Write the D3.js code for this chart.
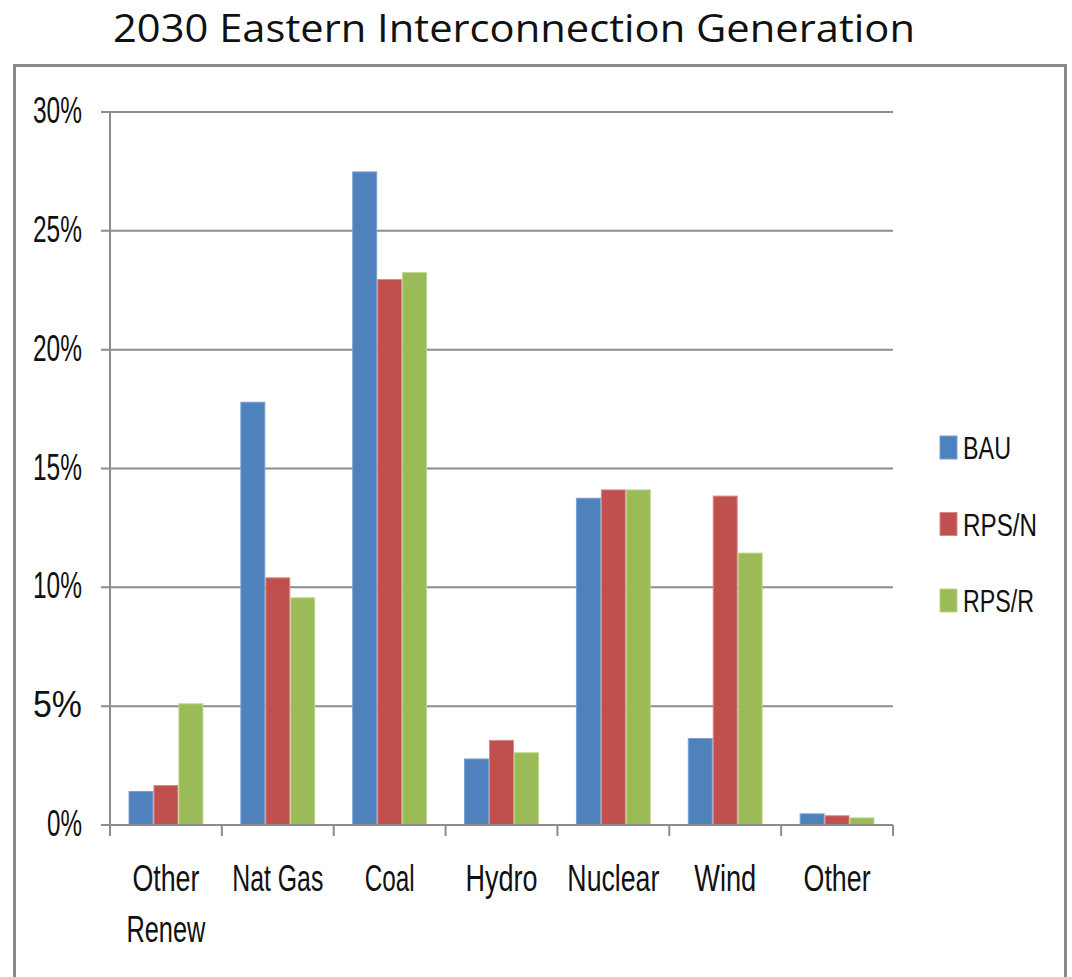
<!DOCTYPE html>
<html><head><meta charset="utf-8">
<script src="https://cdn.jsdelivr.net/npm/d3@7"></script>
<style>body{margin:0;background:#fff}svg{display:block}</style>
</head><body>
<svg id="c" width="1072" height="977"></svg>
<script>
const categories = ["Other Renew", "Nat Gas", "Coal", "Hydro", "Nuclear", "Wind", "Other"];
const categoryLines = [["Other","Renew"],["Nat Gas"],["Coal"],["Hydro"],["Nuclear"],["Wind"],["Other"]];
const seriesNames = ["BAU", "RPS/N", "RPS/R"];
const bau  = [1.43, 17.81, 27.5, 2.80, 13.77, 3.66, 0.49];
const rpsN = [1.68, 10.42, 22.97, 3.58, 14.12, 13.86, 0.41];
const rpsR = [5.12, 9.58, 23.26, 3.06, 14.12, 11.46, 0.32];
const yTicks = [0, 5, 10, 15, 20, 25, 30];
const colors = ["#4F81BD", "#C0504D", "#9BBB59"];
const strokes = ["#7aa0d0", "#d88a88", "#bcd58a"];
const title = "2030 Eastern Interconnection Generation";

const seriesVals = [bau, rpsN, rpsR];
const svg = d3.select("#c");
const font = "'Liberation Sans Narrow', 'Arial Narrow', sans-serif";

// frame
svg.append("rect").attr("x", 14.5).attr("y", 65.5).attr("width", 1051).attr("height", 1000)
  .attr("fill", "none").attr("stroke", "#8a8a8a").attr("stroke-width", 3);

// title
svg.append("text").attr("x", 514).attr("y", 42).attr("text-anchor", "middle")
  .attr("font-family", "'Open Sans', sans-serif").attr("font-size", 38).attr("fill", "#111")
  .attr("textLength", 802).attr("lengthAdjust", "spacingAndGlyphs").text(title);

const y = d3.scaleLinear().domain([0, 30]).range([825, 112]);
const x0 = d3.scaleBand().domain(categories).range([110, 893]).paddingInner(0).paddingOuter(0);
const x1 = d3.scaleBand().domain(seriesNames).range([18.5, x0.bandwidth() - 18.5]);

// gridlines
svg.append("g").selectAll("line").data(yTicks).join("line")
  .attr("x1", 101).attr("x2", 893).attr("y1", d => y(d)).attr("y2", d => y(d))
  .attr("stroke", "#8c8c8c").attr("stroke-width", 2);

// y labels
svg.append("g").selectAll("text").data(yTicks).join("text")
  .attr("x", 82).attr("y", d => y(d) + 11).attr("text-anchor", "end")
  .attr("font-family", font).attr("font-size", 36).attr("fill", "#111")
  .attr("textLength", d => d === 0 ? 35 : 49).attr("lengthAdjust", "spacingAndGlyphs")
  .text(d => d + "%");

// bars
const groups = svg.append("g").selectAll("g").data(categories).join("g")
  .attr("transform", d => `translate(${x0(d)},0)`);
groups.selectAll("rect").data((c, i) => seriesNames.map((s, j) => ({s, j, v: seriesVals[j][i]})))
  .join("rect")
  .attr("x", d => x1(d.s) + 0.5).attr("width", x1.bandwidth() - 1)
  .attr("y", d => y(d.v) + 0.5).attr("height", d => y(0) - y(d.v) - 0.5)
  .attr("fill", d => colors[d.j]).attr("stroke", d => strokes[d.j]).attr("stroke-width", 1);

// axes lines
svg.append("line").attr("x1", 110).attr("x2", 110).attr("y1", 112).attr("y2", 835)
  .attr("stroke", "#8c8c8c").attr("stroke-width", 2);
svg.append("line").attr("x1", 101).attr("x2", 893).attr("y1", 825).attr("y2", 825)
  .attr("stroke", "#8c8c8c").attr("stroke-width", 2);
const bounds = categories.map(c => x0(c)).concat([x0.range()[1]]);
svg.append("g").selectAll("line").data(bounds).join("line")
  .attr("x1", d => d).attr("x2", d => d).attr("y1", 825).attr("y2", 836)
  .attr("stroke", "#8c8c8c").attr("stroke-width", 2);

// category labels
const catWidths = {"Other": 67, "Renew": 79, "Nat Gas": 91, "Coal": 50, "Hydro": 72, "Nuclear": 92, "Wind": 62};
const cl = svg.append("g").selectAll("text").data(categories).join("text")
  .attr("font-family", font).attr("font-size", 36).attr("fill", "#111").attr("text-anchor", "middle");
cl.each(function(c, i) {
  const cx = x0(c) + x0.bandwidth() / 2;
  categoryLines[i].forEach((ln, k) => {
    d3.select(this.parentNode).append("text")
      .attr("x", cx).attr("y", 891 + k * 51).attr("text-anchor", "middle")
      .attr("font-family", font).attr("font-size", 36).attr("fill", "#111")
      .attr("textLength", catWidths[ln]).attr("lengthAdjust", "spacingAndGlyphs").text(ln);
  });
});
cl.remove();

// legend
const legW = [48, 74, 71];
const lg = svg.append("g").selectAll("g").data(seriesNames).join("g")
  .attr("transform", (d, i) => `translate(940,${436 + i * 76.5})`);
lg.append("rect").attr("width", 17).attr("height", 23).attr("fill", (d, i) => colors[i])
  .attr("stroke", (d, i) => strokes[i]).attr("stroke-width", 1);
lg.append("text").attr("x", 23).attr("y", 23).attr("font-family", font).attr("font-size", 31)
  .attr("fill", "#111").attr("textLength", (d, i) => legW[i]).attr("lengthAdjust", "spacingAndGlyphs")
  .text(d => d);
</script>
</body></html>
